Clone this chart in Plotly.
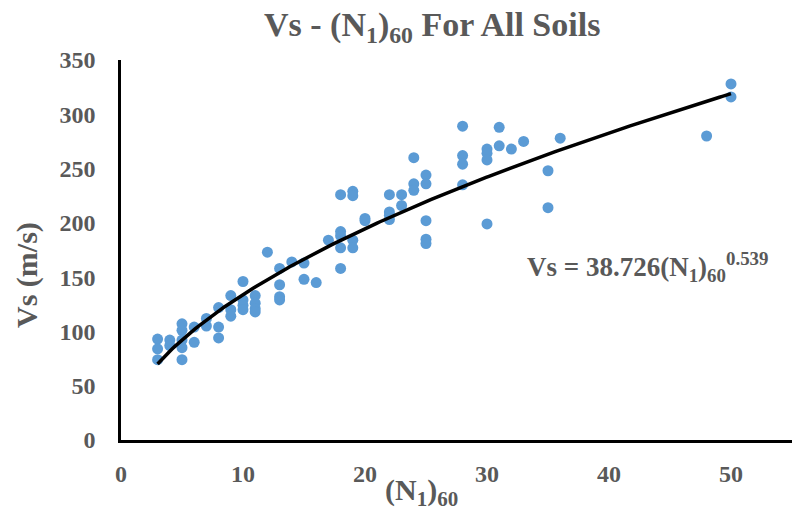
import numpy as np
import plotly.graph_objects as go

# (N1)60 values and measured Vs (m/s)
n160 = [3, 3, 3, 4, 4, 5, 5, 5, 5, 5, 6, 6, 7, 7, 8, 8, 8, 9, 9, 9,
        10, 10, 10, 10, 11, 11, 11, 11, 12, 13, 13, 13, 13, 14, 15, 15, 16, 17,
        18, 18, 18, 18, 18, 19, 19, 19, 19, 20, 20, 22, 22, 22, 22, 23, 23,
        24, 24, 24, 25, 25, 25, 25, 25, 28, 28, 28, 28, 30, 30, 30, 30,
        31, 31, 32, 33, 35, 35, 36, 48, 50, 50]
vs = [93, 84, 74, 92, 87, 107, 101, 92, 85, 74, 104, 90, 112, 105, 122, 104, 94, 133, 120, 114,
      146, 129, 124, 120, 133, 126, 121, 118, 173, 158, 143, 132, 129, 164, 163, 148, 145, 184,
      226, 192, 188, 177, 158, 229, 225, 184, 177, 204, 202, 226, 210, 207, 203, 226, 216,
      260, 236, 230, 244, 236, 202, 185, 181, 289, 262, 254, 235, 268, 264, 258, 199,
      288, 271, 268, 275, 248, 214, 278, 280, 328, 316]

# power trendline coefficients (from the chart equation)
coef_a = 38.726
coef_b = 0.539
fit_range = [3, 50]

x_ticks = [0, 10, 20, 30, 40, 50]
y_ticks = [0, 50, 100, 150, 200, 250, 300, 350]

GRAY = "#595959"
FONT = "Liberation Serif, Times New Roman, serif"

fx = np.linspace(fit_range[0], fit_range[1], 200)
fy = coef_a * fx ** coef_b

fig = go.Figure()
fig.add_trace(go.Scatter(x=n160, y=vs, mode="markers",
                         marker=dict(size=11, color="#5B9BD5"),
                         showlegend=False, hoverinfo="x+y"))
fig.add_trace(go.Scatter(x=fx, y=fy, mode="lines",
                         line=dict(color="black", width=3.5),
                         showlegend=False, hoverinfo="skip"))

fig.update_layout(
    width=796, height=516,
    margin=dict(l=121, r=4, t=60, b=76),
    plot_bgcolor="white", paper_bgcolor="white",
    font=dict(family=FONT, color=GRAY),
    xaxis=dict(range=[0, 55], tickvals=x_ticks, showgrid=False, zeroline=False,
               showline=True, linecolor="black", linewidth=2.5,
               ticks="outside", ticklen=10, tickcolor="rgba(0,0,0,0)",
               tickfont=dict(family=FONT, size=24, color=GRAY, weight="bold")),
    yaxis=dict(range=[0, 350], tickvals=y_ticks, showgrid=False, zeroline=False,
               showline=True, linecolor="black", linewidth=2.5,
               ticks="outside", ticklen=18, tickcolor="rgba(0,0,0,0)",
               tickfont=dict(family=FONT, size=24, color=GRAY, weight="bold")),
    annotations=[
        dict(text="<b>Vs - (N<sub>1</sub>)<sub>60</sub> For All Soils</b>",
             xref="paper", yref="paper", x=(432 - 121) / 671, y=(440 - 27) / 380,
             xanchor="center", yanchor="middle", showarrow=False,
             font=dict(family=FONT, size=34, color=GRAY)),
        dict(text="<b>Vs (m/s)</b>", textangle=-90,
             xref="paper", yref="paper", x=(27 - 121) / 671, y=(440 - 275) / 380,
             xanchor="center", yanchor="middle", showarrow=False,
             font=dict(family=FONT, size=30, color=GRAY)),
        dict(text="<b>(N<sub>1</sub>)<sub>60</sub></b>",
             xref="paper", yref="paper", x=(421 - 121) / 671, y=(440 - 492) / 380,
             xanchor="center", yanchor="middle", showarrow=False,
             font=dict(family=FONT, size=30, color=GRAY)),
        dict(text="<b>Vs = 38.726(N<sub>1</sub>)<sub>60</sub><sup>0.539</sup></b>",
             xref="paper", yref="paper", x=(648 - 121) / 671, y=(440 - 267) / 380,
             xanchor="center", yanchor="middle", showarrow=False,
             font=dict(family=FONT, size=27, color=GRAY)),
    ],
)

fig.write_html("out.html")
